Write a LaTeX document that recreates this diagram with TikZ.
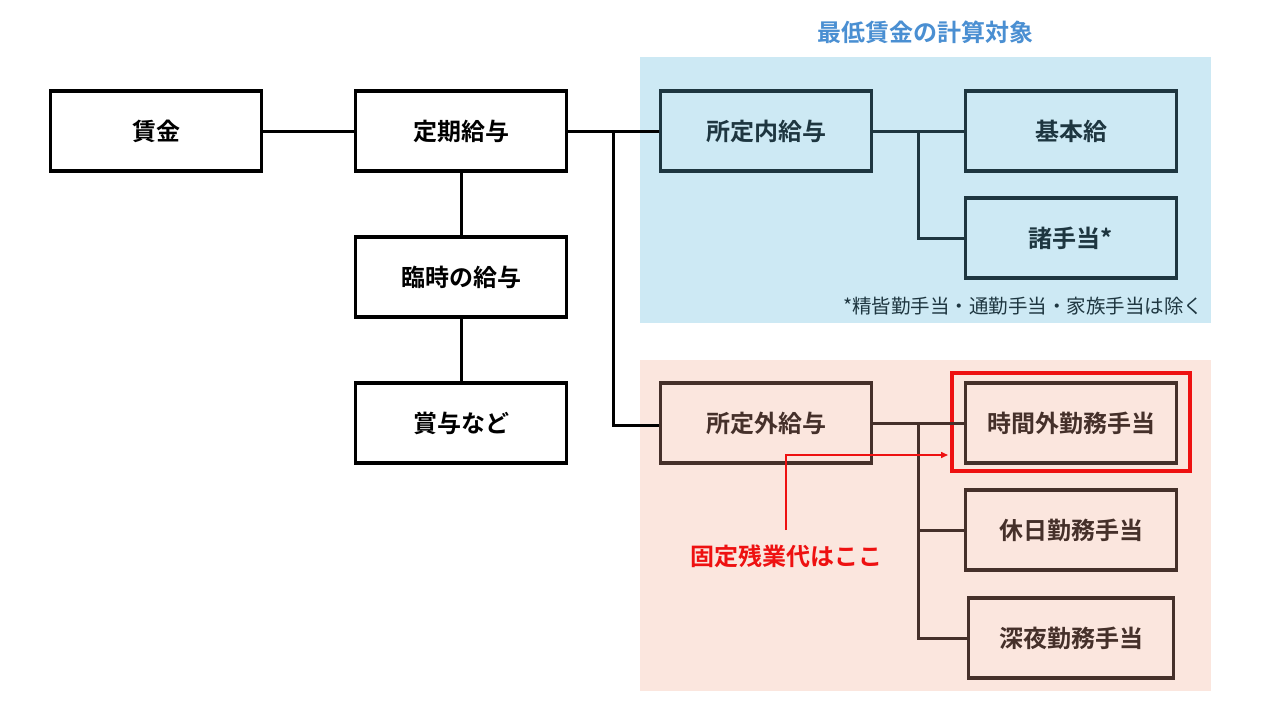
\documentclass[tikz,border=0pt]{standalone}
\usepackage{fontspec}
\setmainfont{Noto Sans CJK JP}
\newfontfamily\jpb{Noto Sans CJK JP Bold}
\usetikzlibrary{arrows.meta}
\definecolor{bluebg}{HTML}{CDE9F4}
\definecolor{pinkbg}{HTML}{FBE6DE}
\definecolor{tealdk}{HTML}{1E3640}
\definecolor{browndk}{HTML}{45302A}
\definecolor{titleblue}{HTML}{4A8FD2}
\definecolor{redc}{HTML}{EE1111}
\tikzset{
  box/.style={draw, line width=3.6pt, minimum width=211pt, minimum height=80pt, inner sep=0pt, font=\jpb\fontsize{24}{28}\selectfont},
  bbox/.style={box, draw=black, text=black},
  tbox/.style={box, draw=tealdk, text=tealdk},
  pbox/.style={box, draw=browndk, text=browndk},
  conn/.style={line width=3pt},
}
\begin{document}
\begin{tikzpicture}[x=1pt,y=-1pt]
\useasboundingbox (0,0) rectangle (1280,720);
\fill[white] (0,0) rectangle (1280,720);
% regions
\fill[bluebg] (640,57) rectangle (1211,323);
\fill[pinkbg] (640,360) rectangle (1211,691);
\node[text=titleblue, font=\jpb\fontsize{24}{28}\selectfont] (title) at (925,32) {最低賃金の計算対象};
\node[anchor=east, text=tealdk, font=\fontsize{19.5}{22}\selectfont] (note) at (1207,306) {*精皆勤手当・通勤手当・家族手当は除く};
% left boxes
\node[bbox] (wage) at (156,131) {賃金};
\node[bbox] (reg) at (461,131) {定期給与};
\node[bbox] (tmp) at (461,277) {臨時の給与};
\node[bbox] (bonus) at (461,423) {賞与など};
% blue boxes
\node[tbox] (inner) at (766,131) {所定内給与};
\node[tbox] (base) at (1071,131) {基本給};
\node[tbox] (allow) at (1071,238) {諸手当*};
% pink boxes
\node[pbox] (outer) at (766,423) {所定外給与};
\node[pbox] (ot) at (1071,423) {時間外勤務手当};
\node[pbox] (hol) at (1071,530) {休日勤務手当};
\node[pbox, minimum width=205pt] (night) at (1071,638) {深夜勤務手当};
\node[draw=redc, line width=4pt, minimum width=238pt, minimum height=98pt, inner sep=0pt] (redbox) at (1070.5,421.5) {};
% connectors
\draw[conn, black] (wage.east) -- (reg.west);
\draw[conn, black] (reg.south) -- (tmp.north);
\draw[conn, black] (tmp.south) -- (bonus.north);
\coordinate (j1) at (613,131);
\draw[conn, black] (reg.east) -- (j1) -- (inner.west);
\draw[conn, black] (j1) -- (613,425) -- (outer.west |- 0,425);
\coordinate (j2) at (918,131);
\draw[conn, tealdk] (inner.east) -- (base.west);
\draw[conn, tealdk] (j2) |- (allow.west);
\coordinate (j3) at (918,423);
\draw[conn, browndk] (outer.east) -- (ot.west);
\draw[conn, browndk] (j3) |- (hol.west);
\draw[conn, browndk] (j3) |- (night.west);
% red annotation
\node[text=redc, font=\jpb\fontsize{24}{28}\selectfont] (lbl) at (786,556) {固定残業代はここ};
\coordinate (r1) at (786,455);
\coordinate (r2) at (948,455);
\draw[redc, line width=1.5pt, -{Triangle[length=7pt,width=6pt]}] (786,530) -- (r1) -- (r2);
\end{tikzpicture}
\end{document}
